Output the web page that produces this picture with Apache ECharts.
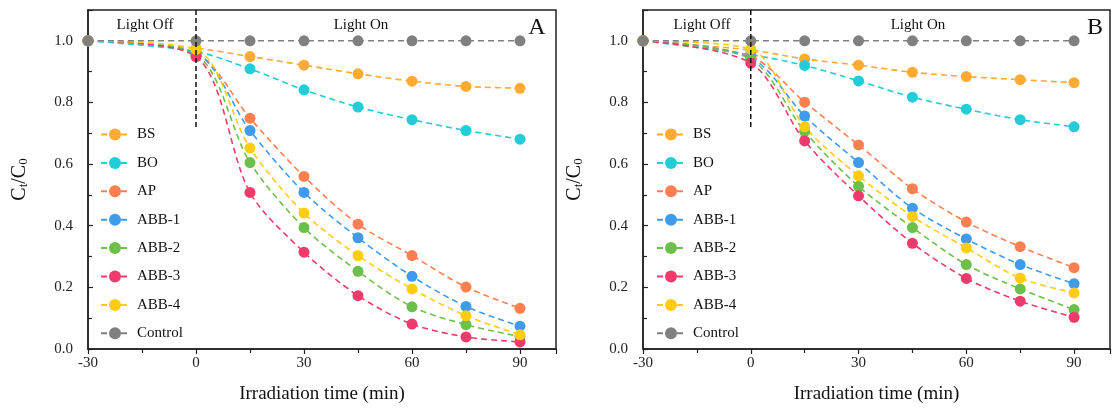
<!DOCTYPE html>
<html>
<head>
<meta charset="utf-8">
<script src="https://cdn.jsdelivr.net/npm/echarts@6/dist/echarts.min.js"></script>
<style>html,body{margin:0;padding:0;background:#fff;}#c{width:1113px;height:416px;}</style>
</head>
<body>
<div id="c"></div>
<script>
// ---- data ----
var times = [-30, 0, 15, 30, 45, 60, 75, 90];
var seriesNames = ['BS', 'BO', 'AP', 'ABB-1', 'ABB-2', 'ABB-3', 'ABB-4', 'Control'];
var seriesColors = ['#FFAA33', '#22CCD8', '#FF7F50', '#3F9BEB', '#6CC04A', '#EE3B6B', '#FFCC11', '#808080'];

// Panel A
var A_BS    = [1.0, 0.976, 0.949, 0.921, 0.893, 0.869, 0.852, 0.846];
var A_BO    = [1.0, 0.965, 0.909, 0.841, 0.785, 0.744, 0.709, 0.681];
var A_AP    = [1.0, 0.960, 0.749, 0.560, 0.405, 0.303, 0.201, 0.132];
var A_ABB1  = [1.0, 0.960, 0.709, 0.508, 0.361, 0.236, 0.138, 0.074];
var A_ABB2  = [1.0, 0.955, 0.605, 0.394, 0.252, 0.137, 0.079, 0.040];
var A_ABB3  = [1.0, 0.949, 0.508, 0.314, 0.173, 0.081, 0.039, 0.023];
var A_ABB4  = [1.0, 0.972, 0.652, 0.441, 0.303, 0.195, 0.108, 0.046];
var A_CTRL  = [1.0, 1.0, 1.0, 1.0, 1.0, 1.0, 1.0, 1.0];

// Panel B
var B_BS    = [1.0, 0.970, 0.941, 0.921, 0.898, 0.884, 0.874, 0.864];
var B_BO    = [1.0, 0.955, 0.920, 0.870, 0.817, 0.778, 0.744, 0.721];
var B_AP    = [1.0, 0.950, 0.801, 0.662, 0.520, 0.412, 0.332, 0.264];
var B_ABB1  = [1.0, 0.945, 0.756, 0.605, 0.457, 0.357, 0.274, 0.212];
var B_ABB2  = [1.0, 0.940, 0.706, 0.528, 0.394, 0.274, 0.195, 0.128];
var B_ABB3  = [1.0, 0.928, 0.675, 0.497, 0.343, 0.229, 0.155, 0.103];
var B_ABB4  = [1.0, 0.973, 0.721, 0.562, 0.430, 0.328, 0.230, 0.182];
var B_CTRL  = [1.0, 1.0, 1.0, 1.0, 1.0, 1.0, 1.0, 1.0];

// light on/off divider (x = 0)
var dividerX = [0, 0];
var dividerY = [1.1, 0.72];

var xTicks = { min: -30, max: 100, interval: 30 };
var yTicks = { min: 0, max: 1.1, interval: 0.2 };

var panelA = [A_BS, A_BO, A_AP, A_ABB1, A_ABB2, A_ABB3, A_ABB4, A_CTRL];
var panelB = [B_BS, B_BO, B_AP, B_ABB1, B_ABB2, B_ABB3, B_ABB4, B_CTRL];

// ---- chart ----
var FONT = 'Liberation Serif';
var chart = echarts.init(document.getElementById('c'), null, { renderer: 'canvas' });

function pairs(xs, ys) { return xs.map(function (x, i) { return [x, ys[i]]; }); }

function makeXAxis(gi) {
  return {
    type: 'value', gridIndex: gi, min: xTicks.min, max: xTicks.max, interval: xTicks.interval,
    name: 'Irradiation time (min)', nameLocation: 'middle', nameGap: 36,
    nameTextStyle: { fontFamily: FONT, fontSize: 19, color: '#111' },
    axisLine: { show: true, onZero: false, lineStyle: { color: '#222', width: 1.5 } },
    axisTick: { show: true, inside: false, length: 5, lineStyle: { color: '#222', width: 1.2 } },
    minorTick: { show: true, splitNumber: 2, length: 4, lineStyle: { color: '#222', width: 1.2 } },
    axisLabel: { fontFamily: FONT, fontSize: 15, color: '#222', margin: 7, showMaxLabel: false },
    splitLine: { show: false }
  };
}
function makeYAxis(gi) {
  return {
    type: 'value', gridIndex: gi, min: yTicks.min, max: yTicks.max, interval: yTicks.interval,
    name: '{a|C}{b|t}{a|/C}{b|0}', nameLocation: 'middle', nameGap: 58, nameRotate: 90,
    nameTextStyle: {
      rich: {
        a: { fontFamily: FONT, fontSize: 20, color: '#111' },
        b: { fontFamily: FONT, fontSize: 13, color: '#111', padding: [8, 0, 0, 0] }
      }
    },
    axisLine: { show: true, onZero: false, lineStyle: { color: '#222', width: 1.5 } },
    axisTick: { show: true, inside: true, length: 5, lineStyle: { color: '#222', width: 1.2 } },
    minorTick: { show: true, splitNumber: 2, length: 4, lineStyle: { color: '#222', width: 1.2 } },
    axisLabel: {
      fontFamily: FONT, fontSize: 15, color: '#222', margin: 15, showMaxLabel: false,
      formatter: function (v) { return v.toFixed(1); }
    },
    splitLine: { show: false }
  };
}

var series = [];
[panelA, panelB].forEach(function (panel, pi) {
  panel.forEach(function (vals, si) {
    series.push({
      name: seriesNames[si], type: 'line', xAxisIndex: pi, yAxisIndex: pi,
      data: pairs(times, vals), smooth: 0.3,
      symbol: 'circle', symbolSize: 11,
      itemStyle: { color: seriesColors[si] },
      lineStyle: { color: seriesColors[si], width: 1.6, type: [6, 4] },
      z: si === 7 ? 3 : 2
    });
  });
  series.push({
    name: 'divider', type: 'line', xAxisIndex: pi, yAxisIndex: pi,
    data: pairs(dividerX, dividerY), symbol: 'none', silent: true,
    lineStyle: { color: '#111', width: 1.5, type: [5, 3] }, z: 5
  });
});

function legend(left) {
  return {
    data: seriesNames, orient: 'vertical', left: left, top: 122,
    itemWidth: 28, itemHeight: 15, itemGap: 13.4, selectedMode: false,
    textStyle: { fontFamily: FONT, fontSize: 15, color: '#111', padding: [0, 0, 0, 3] }
  };
}

chart.setOption({
  animation: false,
  backgroundColor: '#fff',
  grid: [
    { left: 88, top: 10, width: 468, height: 339, show: true, borderColor: '#222', borderWidth: 1.5, backgroundColor: 'transparent' },
    { left: 643, top: 10, width: 467, height: 339, show: true, borderColor: '#222', borderWidth: 1.5, backgroundColor: 'transparent' }
  ],
  xAxis: [makeXAxis(0), makeXAxis(1)],
  yAxis: [makeYAxis(0), makeYAxis(1)],
  legend: [legend(95), legend(651)],
  series: series,
  graphic: [
    { type: 'text', x: 145, y: 25, style: { text: 'Light Off', fontFamily: FONT, fontSize: 15, fill: '#111', align: 'center', verticalAlign: 'middle' } },
    { type: 'text', x: 361, y: 25, style: { text: 'Light On', fontFamily: FONT, fontSize: 15, fill: '#111', align: 'center', verticalAlign: 'middle' } },
    { type: 'text', x: 537, y: 28, style: { text: 'A', fontFamily: FONT, fontSize: 24, fill: '#111', align: 'center', verticalAlign: 'middle' } },
    { type: 'text', x: 702, y: 25, style: { text: 'Light Off', fontFamily: FONT, fontSize: 15, fill: '#111', align: 'center', verticalAlign: 'middle' } },
    { type: 'text', x: 918, y: 25, style: { text: 'Light On', fontFamily: FONT, fontSize: 15, fill: '#111', align: 'center', verticalAlign: 'middle' } },
    { type: 'text', x: 1095, y: 28, style: { text: 'B', fontFamily: FONT, fontSize: 24, fill: '#111', align: 'center', verticalAlign: 'middle' } }
  ]
});
</script>
</body>
</html>
